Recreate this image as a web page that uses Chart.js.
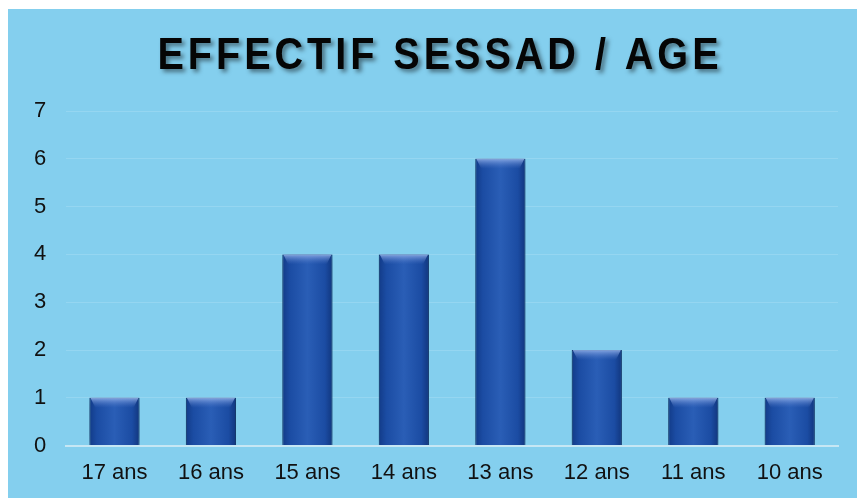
<!DOCTYPE html>
<html>
<head>
<meta charset="utf-8">
<script src="https://cdn.jsdelivr.net/npm/chart.js@4"></script>
<style>
    html, body { margin: 0; padding: 0; background: #fff; }
    #wrap { position: absolute; left: 8px; top: 9px; width: 849px; height: 489px; background: #84cfee; overflow: hidden; }
</style>
</head>
<body>
<div id="wrap"><canvas id="ageChart" width="849" height="489"></canvas></div>
<script>
const titleText = 'EFFECTIF SESSAD / AGE';
const ages = ['17 ans', '16 ans', '15 ans', '14 ans', '13 ans', '12 ans', '11 ans', '10 ans'];
const effectifs = [1, 1, 4, 4, 6, 2, 1, 1];
const barPct = 0.52;

// dégradé horizontal façon "barre 3D"
function barGradient(context) {
    const chart = context.chart;
    const xs = chart.scales && chart.scales.x;
    if (!chart.chartArea || !xs) return '#1f4fa6';
    const cx = xs.getPixelForValue(context.dataIndex);
    const half = chart.chartArea.width / ages.length * barPct / 2;
    if (!isFinite(cx) || !isFinite(half)) return '#1f4fa6';
    const g = chart.ctx.createLinearGradient(cx - half, 0, cx + half, 0);
    g.addColorStop(0, '#123b88');
    g.addColorStop(0.15, '#1b4ca3');
    g.addColorStop(0.5, '#2a5eb6');
    g.addColorStop(0.85, '#1b4ca3');
    g.addColorStop(1, '#11367e');
    return g;
}

const shadowPlugin = {
    id: 'barShadow',
    beforeDatasetsDraw(chart) {
        const ctx = chart.ctx;
        ctx.save();
        ctx.shadowColor = 'rgba(25,65,95,0.75)';
        ctx.shadowBlur = 10;
        ctx.shadowOffsetX = 0;
        ctx.shadowOffsetY = 0;
    },
    afterDatasetsDraw(chart) {
        const ctx = chart.ctx;
        ctx.restore();
        // reflet clair sur le haut des barres
        const meta = chart.getDatasetMeta(0);
        meta.data.forEach(bar => {
            const half = bar.width / 2;
            const g = ctx.createLinearGradient(0, bar.y, 0, bar.y + 10);
            g.addColorStop(0, 'rgba(150,180,235,0.85)');
            g.addColorStop(1, 'rgba(80,120,200,0)');
            ctx.fillStyle = g;
            ctx.beginPath();
            ctx.moveTo(bar.x - half + 1, bar.y);
            ctx.lineTo(bar.x + half - 1, bar.y);
            ctx.lineTo(bar.x + half - 6, bar.y + 10);
            ctx.lineTo(bar.x - half + 6, bar.y + 10);
            ctx.closePath();
            ctx.fill();
        });
    }
};

const titlePlugin = {
    id: 'shadowTitle',
    afterDraw(chart) {
        const ctx = chart.ctx;
        ctx.save();
        ctx.translate(432, 48);
        ctx.scale(0.88, 1);
        ctx.font = 'bold 45px "Liberation Sans", Arial, sans-serif';
        ctx.letterSpacing = '4.5px';
        ctx.textAlign = 'center';
        ctx.textBaseline = 'middle';
        ctx.fillStyle = '#050505';
        ctx.shadowColor = 'rgba(0,0,0,0.45)';
        ctx.shadowBlur = 4;
        ctx.shadowOffsetX = 3;
        ctx.shadowOffsetY = 3;
        ctx.fillText(titleText, 0, 0);
        ctx.restore();
    }
};

new Chart(document.getElementById('ageChart').getContext('2d'), {
    type: 'bar',
    data: {
        labels: ages,
        datasets: [{
            data: effectifs,
            backgroundColor: barGradient,
            borderColor: '#123673',
            borderWidth: 1,
            categoryPercentage: 1,
            barPercentage: barPct
        }]
    },
    options: {
        responsive: false,
        animation: false,
        layout: { padding: { top: 102, left: 6, right: 19, bottom: -2 } },
        plugins: {
            legend: { display: false },
            title: { display: false },
            tooltip: { enabled: false }
        },
        scales: {
            x: {
                grid: { display: false, drawTicks: false },
                border: { color: '#c6e7f4', width: 2 },
                ticks: {
                    color: '#111',
                    padding: 14,
                    font: { size: 22, family: '"Liberation Sans", Arial, sans-serif' }
                }
            },
            y: {
                min: 0,
                max: 7,
                border: { display: false },
                grid: { color: '#95d6f1', lineWidth: 1, drawTicks: false },
                ticks: {
                    stepSize: 1,
                    color: '#111',
                    padding: 20,
                    font: { size: 22, family: '"Liberation Sans", Arial, sans-serif' }
                }
            }
        }
    },
    plugins: [shadowPlugin, titlePlugin]
});
</script>
</body>
</html>
